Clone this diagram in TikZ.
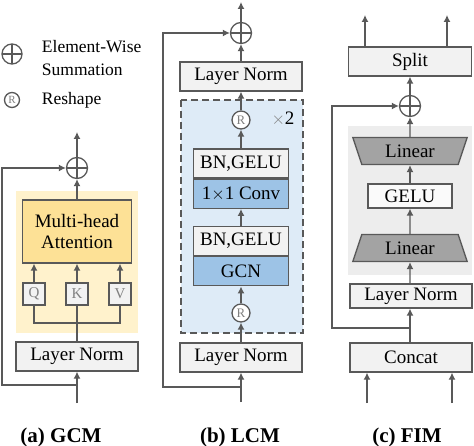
\documentclass[tikz,border=0pt]{standalone}
\usepackage{fontspec}
\setmainfont{Liberation Serif}
\usepackage{tikz}
\usetikzlibrary{arrows.meta,positioning,shapes.geometric,calc}
\definecolor{linegray}{HTML}{595959}
\definecolor{boxgray}{HTML}{F2F2F2}
\definecolor{yellowbg}{HTML}{FFF2CC}
\definecolor{attyellow}{HTML}{FDE196}
\definecolor{bluebg}{HTML}{DEEBF7}
\definecolor{bluebox}{HTML}{9DC3E6}
\definecolor{graybg}{HTML}{EDEDED}
\definecolor{lingray}{HTML}{A3A3A3}

\begin{document}
\begin{tikzpicture}[x=1pt,y=-1pt,line width=1.3pt,font=\fontsize{19}{21}\selectfont,
   box/.style={draw=linegray,fill=boxgray,minimum width=122pt,minimum height=29pt,inner sep=0pt},
   qkv/.style={draw=linegray,fill=boxgray,minimum size=22pt,inner sep=0pt,text=gray,
               font=\fontsize{15}{15}\selectfont},
   trap/.style={trapezium,draw=linegray,fill=lingray,trapezium left angle=70,
                trapezium right angle=70,minimum width=115pt,minimum height=27pt,
                inner sep=0pt,trapezium stretches=true},
   sum/.style={circle,draw=linegray,fill=white,minimum size=21pt,inner sep=0pt,
               path picture={\draw[linegray]
                 (path picture bounding box.north) -- (path picture bounding box.south)
                 (path picture bounding box.west) -- (path picture bounding box.east);}},
   rsh/.style={circle,draw=linegray,fill=white,minimum size=18pt,inner sep=0pt,text=gray,
               font=\fontsize{13}{13}\selectfont},
   arr/.style={draw=linegray,-{Latex[length=7pt,width=7pt]}},
   line/.style={draw=linegray},
   lbl/.style={font=\fontsize{21}{23}\selectfont\bfseries}]
  \useasboundingbox (0,0) rectangle (474,446);

  % legend
  \node[sum,minimum size=20pt] (lgsum) at (12,54) {};
  \node[anchor=west,align=left,font=\fontsize{17.5}{23}\selectfont] (lgsumtxt) at (38,58) {Element-Wise\\Summation};
  \node[rsh,minimum size=15pt,font=\fontsize{11}{11}\selectfont] (lgr) at (12,100) {R};
  \node[anchor=west,font=\fontsize{17.5}{20}\selectfont] (lgrtxt) at (38,100) {Reshape};

  % (a) GCM
  \fill[yellowbg] (16,191) rectangle (138,333);
  \node[sum] (gsum) at (77,168) {};
  \node[box,fill=attyellow,minimum width=109pt,minimum height=63pt,align=center] (att) at (77,231.5) {Multi-head\\Attention};
  \node[qkv] (q) at (34,294) {Q};
  \node[qkv] (k) at (77,294) {K};
  \node[qkv] (v) at (120,294) {V};
  \node[box] (gln) at (77,356.5) {Layer Norm};
  \coordinate (gin) at (77,403);
  \coordinate (gsplit) at (77,385);
  \coordinate (gjoin) at (77,323);
  \coordinate (gout) at (77,132);
  \draw[arr] (gin) -- (gln);
  \draw[line] (gln) -- (k);
  \draw[line] (q) |- (gjoin) -| (v);
  \draw[arr] (q) -- (q |- att.south);
  \draw[arr] (k) -- (att);
  \draw[arr] (v) -- (v |- att.south);
  \draw[arr] (att) -- (gsum);
  \draw[arr] (gsum) -- (gout);
  \draw[arr] (gsplit) -- ++(-75,0) |- (gsum);
  \node[lbl] (gcap) at (61,437) {(a) GCM};

  % (b) LCM
  \draw[linegray,fill=bluebg,dash pattern=on 7pt off 4pt] (181,100) rectangle (303,333);
  \node[sum] (lsum) at (241,33) {};
  \node[box] (lln1) at (241,76.5) {Layer Norm};
  \node[rsh] (lr1) at (241,120) {R};
  \node (times) at (283,119) {{\color{gray}$\times$}2};
  \node[box,minimum width=95pt] (bn1) at (241,163.5) {BN,GELU};
  \node[box,minimum width=95pt,fill=bluebox,below=0pt of bn1] (conv) {1$\times$1 Conv};
  \node[box,minimum width=95pt] (bn2) at (241,241) {BN,GELU};
  \node[box,minimum width=95pt,fill=bluebox,below=0pt of bn2] (gcn) {GCN};
  \node[rsh] (lr2) at (241,313) {R};
  \node[box] (lln2) at (241,357.5) {Layer Norm};
  \coordinate (lin) at (241,402);
  \coordinate (lsplit) at (241,387);
  \coordinate (lout) at (241,2);
  \draw[arr] (lin) -- (lln2);
  \draw[arr] (lln2) -- (lr2);
  \draw[arr] (lr2) -- (gcn);
  \draw[arr] (bn2) -- (conv);
  \draw[arr] (bn1) -- (lr1);
  \draw[arr] (lr1) -- (lln1);
  \draw[arr] (lln1) -- (lsum);
  \draw[arr] (lsum) -- (lout);
  \draw[arr] (lsplit) -- ++(-78,0) |- (lsum);
  \node[lbl] (lcap) at (240,437) {(b) LCM};

  % (c) FIM
  \fill[graybg] (348,126) rectangle (472,275);
  \node[box,minimum width=123pt] (split) at (410,61.5) {Split};
  \node[sum] (fsum) at (410,106) {};
  \node[trap,shape border rotate=180] (lin1) at (410,151) {Linear};
  \node[box,fill=white!60!boxgray,minimum width=84pt,minimum height=24pt] (gelu) at (410,196) {GELU};
  \node[trap] (lin2) at (410,248) {Linear};
  \node[box,minimum height=24pt] (fln) at (411,296) {Layer Norm};
  \node[box,minimum width=122pt] (concat) at (411,357.5) {Concat};
  \coordinate (fsplit) at (410,328);
  \coordinate (fin1) at (367,403);
  \coordinate (fin2) at (452,403);
  \coordinate (fout1) at (365,15);
  \coordinate (fout2) at (447,15);
  \draw[arr] (fin1) -- (fin1 |- concat.south);
  \draw[arr] (fin2) -- (fin2 |- concat.south);
  \draw[arr] (concat.north -| fsum) -- (fln.south -| fsum);
  \draw[arr] (fln.north -| fsum) -- (lin2);
  \draw[arr] (lin2) -- (gelu);
  \draw[arr] (gelu) -- (lin1);
  \draw[arr] (lin1) -- (fsum);
  \draw[arr] (fsum) -- (split);
  \draw[arr] (fout1 |- split.north) -- (fout1);
  \draw[arr] (fout2 |- split.north) -- (fout2);
  \draw[arr] (fsplit) -- ++(-78,0) |- (fsum);
  \node[lbl] (fcap) at (407,437) {(c) FIM};
\end{tikzpicture}
\end{document}
